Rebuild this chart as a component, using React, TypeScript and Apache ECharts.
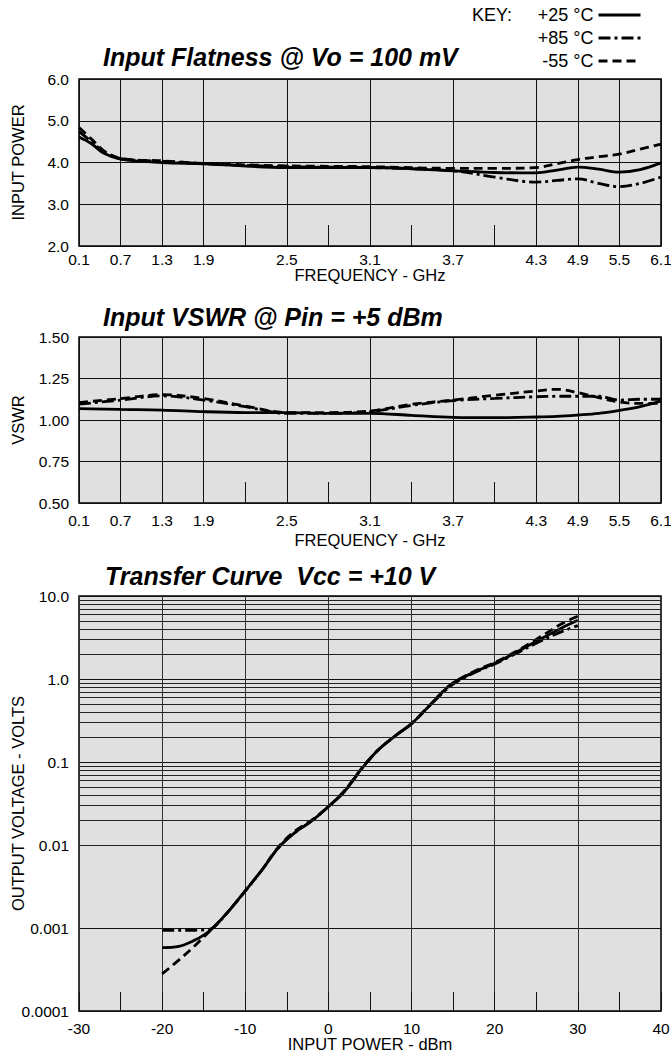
import React, { useEffect, useRef } from 'react';
import * as echarts from 'echarts';

const FONT = "'Liberation Sans', Arial, Helvetica, sans-serif";

// Frequency axis (non-uniform in the original plot): tick labels in order of position
const FREQ_TICKS = ['0.1', '0.7', '1.3', '1.9', '2.2', '2.5', '2.8', '3.1', '3.4', '3.7', '4.0', '4.3', '4.9', '5.5', '6.1'];
const FREQ_SHORT_TICKS = ['2.2', '2.8', '3.4', '4.0'];

const SERIES_NAMES = ['+25 °C', '+85 °C', '-55 °C'];

// Input Flatness @ Vo = 100 mV
const FLAT_FREQ = [0.1, 0.28, 0.46, 0.7, 1.3, 1.9, 2.5, 3.1, 3.7, 4.0, 4.3, 4.6, 4.9, 5.2, 5.5, 5.8, 6.1];
const FLAT_P25 = [4.61, 4.45, 4.22, 4.08, 4.0, 3.97, 3.88, 3.88, 3.8, 3.76, 3.75, 3.82, 3.89, 3.84, 3.77, 3.83, 3.99];
const FLAT_P85 = [4.74, 4.5, 4.25, 4.09, 4.03, 3.97, 3.9, 3.88, 3.8, 3.65, 3.53, 3.57, 3.61, 3.5, 3.42, 3.5, 3.65];
const FLAT_M55 = [4.84, 4.56, 4.28, 4.1, 4.04, 3.98, 3.92, 3.9, 3.86, 3.86, 3.88, 3.97, 4.07, 4.14, 4.2, 4.32, 4.44];

// Input VSWR @ Pin = +5 dBm
const VSWR_FREQ = [0.1, 0.7, 1.3, 1.9, 2.2, 2.5, 2.8, 3.1, 3.4, 3.7, 4.0, 4.3, 4.6, 4.9, 5.2, 5.5, 5.8, 6.1];
const VSWR_P25 = [1.069, 1.064, 1.06, 1.05, 1.045, 1.045, 1.04, 1.04, 1.028, 1.016, 1.014, 1.018, 1.022, 1.03, 1.04, 1.058, 1.08, 1.115];
const VSWR_P85 = [1.095, 1.12, 1.145, 1.12, 1.08, 1.04, 1.04, 1.05, 1.088, 1.117, 1.13, 1.14, 1.143, 1.143, 1.143, 1.12, 1.125, 1.125];
const VSWR_M55 = [1.105, 1.129, 1.153, 1.129, 1.084, 1.045, 1.045, 1.054, 1.095, 1.12, 1.149, 1.175, 1.185, 1.165, 1.135, 1.108, 1.1, 1.1];

// Transfer Curve Vcc = +10 V
const PIN_DBM = [-20, -18, -16, -15, -14, -12, -10, -8, -6, -4, -2, 0, 2, 4, 6, 8, 10, 12, 14, 15, 16, 18, 20, 22, 25, 28, 30];
const VOUT_P25 = [0.00058, 0.0006, 0.00072, 0.00082, 0.00098, 0.0016, 0.0028, 0.005, 0.0093, 0.0142, 0.0195, 0.029, 0.045, 0.083, 0.14, 0.205, 0.29, 0.46, 0.74, 0.9, 1.02, 1.27, 1.55, 1.95, 2.85, 4.1, 5.1];
const VOUT_P85 = [0.00094, 0.00094, 0.00094, 0.00095, 0.00099, 0.0016, 0.0028, 0.005, 0.0093, 0.0142, 0.0195, 0.029, 0.045, 0.083, 0.14, 0.205, 0.29, 0.46, 0.72, 0.87, 1.0, 1.25, 1.52, 1.9, 2.7, 3.7, 4.4];
const VOUT_M55 = [0.00028, 0.00041, 0.00062, 0.00078, 0.00097, 0.0016, 0.0028, 0.005, 0.0095, 0.0148, 0.02, 0.029, 0.046, 0.084, 0.14, 0.205, 0.29, 0.46, 0.75, 0.9, 1.03, 1.3, 1.58, 2.0, 3.0, 4.6, 5.7];

const LOG_TICK_LABELS = ['0.0001', '0.001', '0.01', '0.1', '1.0', '10.0'];
const LOG_DECADES = [0.0001, 0.001, 0.01, 0.1, 1];
const LOG_MINOR_MANTISSAS = [2, 3, 4, 5, 6, 7, 8, 9];

const DASH: Record<string, any> = {
  '+25 °C': 'solid',
  '+85 °C': [12, 4, 3, 4],
  '-55 °C': [9, 5],
};

const SHORT_IDX = FREQ_SHORT_TICKS.map((t) => FREQ_TICKS.indexOf(t));
const FREQ_VALUES = FREQ_TICKS.map(Number);

// position of a frequency on the (non-uniform) frequency axis, in tick units
function freqPos(f: number): number {
  for (let i = 0; i < FREQ_VALUES.length - 1; i++) {
    if (f <= FREQ_VALUES[i + 1]) {
      return i + (f - FREQ_VALUES[i]) / (FREQ_VALUES[i + 1] - FREQ_VALUES[i]);
    }
  }
  return FREQ_VALUES.length - 1;
}

const pairsFreq = (fs: number[], vs: number[]) => fs.map((f, i) => [freqPos(f), vs[i]]);
const pairs = (xs: number[], vs: number[]) => xs.map((x, i) => [x, vs[i]]);

function mkSeries(name: string, xAxisIndex: number, yAxisIndex: number, data: number[][]) {
  return {
    name,
    type: 'line',
    xAxisIndex,
    yAxisIndex,
    data,
    symbol: 'none',
    smooth: 0.35,
    silent: true,
    z: 3,
    itemStyle: { color: '#000' },
    lineStyle: { color: '#000', width: 2.8, type: DASH[name] },
  };
}

const GRID_LINE = { color: '#111', width: 1 };
const LABEL = { color: '#000', fontSize: 15.5, fontFamily: FONT };
const NAME_STYLE = { color: '#000', fontSize: 16.5, fontFamily: FONT };

function freqCategoryAxis(gridIndex: number, margin: number, nameGap: number) {
  return {
    type: 'category',
    gridIndex,
    data: FREQ_TICKS,
    boundaryGap: false,
    axisLine: { show: false },
    axisTick: {
      show: true,
      inside: true,
      length: 21,
      interval: (i: number) => SHORT_IDX.includes(i),
      lineStyle: GRID_LINE,
    },
    axisLabel: { ...LABEL, margin, interval: (i: number) => !SHORT_IDX.includes(i) },
    splitLine: { show: true, interval: (i: number) => !SHORT_IDX.includes(i), lineStyle: GRID_LINE },
    name: 'FREQUENCY - GHz',
    nameLocation: 'middle',
    nameGap,
    nameMoveOverlap: false,
    nameTextStyle: NAME_STYLE,
  };
}

function hiddenPosAxis(gridIndex: number) {
  return {
    type: 'value',
    gridIndex,
    min: 0,
    max: FREQ_TICKS.length - 1,
    show: false,
    splitLine: { show: false },
  };
}

const gridCommon = {
  show: true,
  backgroundColor: '#e0e0e0',
  borderColor: '#000',
  borderWidth: 1.5,
  left: 79,
  width: 582,
  containLabel: false,
  outerBoundsMode: 'none',
};

const option: any = {
  animation: false,
  backgroundColor: '#fff',
  textStyle: { fontFamily: FONT },
  title: [
    {
      text: 'Input Flatness @ Vo = 100 mV', left: 103, top: 44, padding: 0,
      textStyle: { fontSize: 25, fontWeight: 'bold', fontStyle: 'italic', color: '#000', fontFamily: FONT },
    },
    {
      text: 'Input VSWR @ Pin = +5 dBm', left: 103, top: 304, padding: 0,
      textStyle: { fontSize: 25, fontWeight: 'bold', fontStyle: 'italic', color: '#000', fontFamily: FONT },
    },
    {
      text: 'Transfer Curve  Vcc = +10 V', left: 105, top: 563, padding: 0,
      textStyle: { fontSize: 25, fontWeight: 'bold', fontStyle: 'italic', color: '#000', fontFamily: FONT },
    },
    {
      text: 'KEY:', left: 472, top: 6, padding: 0,
      textStyle: { fontSize: 18, fontWeight: 'normal', color: '#000', fontFamily: FONT },
    },
  ],
  legend: {
    data: SERIES_NAMES,
    orient: 'vertical',
    align: 'right',
    right: 29,
    top: 6,
    padding: 0,
    itemWidth: 42,
    itemHeight: 14,
    itemGap: 5,
    selectedMode: false,
    textStyle: { fontSize: 18, color: '#000', lineHeight: 18, fontFamily: FONT },
    itemStyle: { opacity: 0, borderWidth: 0 },
    lineStyle: { width: 3 },
  },
  grid: [
    { ...gridCommon, top: 79, height: 167 },
    { ...gridCommon, top: 337, height: 166 },
    { ...gridCommon, top: 596, height: 415 },
  ],
  xAxis: [
    freqCategoryAxis(0, 5, 20),
    hiddenPosAxis(0),
    freqCategoryAxis(1, 9, 28),
    hiddenPosAxis(1),
    {
      type: 'value',
      gridIndex: 2,
      min: -30,
      max: 40,
      interval: 10,
      axisLine: { show: false },
      axisTick: { show: true, inside: true, length: 19, lineStyle: GRID_LINE },
      minorTick: { show: true, splitNumber: 2, length: 19, lineStyle: GRID_LINE },
      axisLabel: { ...LABEL, margin: 9 },
      splitLine: { show: true, lineStyle: { color: '#333', width: 1 } },
      name: 'INPUT POWER - dBm',
      nameLocation: 'middle',
      nameGap: 24,
      nameMoveOverlap: false,
      nameTextStyle: NAME_STYLE,
    },
  ],
  yAxis: [
    {
      type: 'value',
      gridIndex: 0,
      min: 2,
      max: 6,
      interval: 1,
      axisLine: { show: false },
      axisTick: { show: false },
      axisLabel: { ...LABEL, margin: 10, formatter: (v: number) => v.toFixed(1) },
      splitLine: { show: true, lineStyle: GRID_LINE },
      name: 'INPUT POWER',
      nameLocation: 'middle',
      nameGap: 53,
      nameMoveOverlap: false,
      nameTextStyle: NAME_STYLE,
    },
    {
      type: 'value',
      gridIndex: 1,
      min: 0.5,
      max: 1.5,
      interval: 0.25,
      axisLine: { show: false },
      axisTick: { show: false },
      axisLabel: { ...LABEL, margin: 10, formatter: (v: number) => v.toFixed(2) },
      splitLine: { show: true, lineStyle: GRID_LINE },
      name: 'VSWR',
      nameLocation: 'middle',
      nameGap: 53,
      nameMoveOverlap: false,
      nameTextStyle: NAME_STYLE,
    },
    {
      type: 'log',
      logBase: 10,
      gridIndex: 2,
      min: 0.0001,
      max: 10,
      splitNumber: 5,
      axisLine: { show: false },
      axisTick: { show: false },
      axisLabel: {
        ...LABEL,
        margin: 10,
        formatter: (v: number) => LOG_TICK_LABELS[Math.round(Math.log10(v)) + 4] ?? '',
      },
      splitLine: { show: true, lineStyle: { color: '#111', width: 1 } },
      name: 'OUTPUT VOLTAGE - VOLTS',
      nameLocation: 'middle',
      nameGap: 53,
      nameMoveOverlap: false,
      nameTextStyle: NAME_STYLE,
    },
  ],
  series: [
    mkSeries('+25 °C', 1, 0, pairsFreq(FLAT_FREQ, FLAT_P25)),
    mkSeries('+85 °C', 1, 0, pairsFreq(FLAT_FREQ, FLAT_P85)),
    mkSeries('-55 °C', 1, 0, pairsFreq(FLAT_FREQ, FLAT_M55)),
    mkSeries('+25 °C', 3, 1, pairsFreq(VSWR_FREQ, VSWR_P25)),
    mkSeries('+85 °C', 3, 1, pairsFreq(VSWR_FREQ, VSWR_P85)),
    mkSeries('-55 °C', 3, 1, pairsFreq(VSWR_FREQ, VSWR_M55)),
    mkSeries('+25 °C', 4, 2, pairs(PIN_DBM, VOUT_P25)),
    mkSeries('+85 °C', 4, 2, pairs(PIN_DBM, VOUT_P85)),
    mkSeries('-55 °C', 4, 2, pairs(PIN_DBM, VOUT_M55)),
    {
      name: 'log-minor-grid',
      type: 'line',
      xAxisIndex: 4,
      yAxisIndex: 2,
      data: [],
      silent: true,
      z: 1,
      markLine: {
        silent: true,
        animation: false,
        symbol: ['none', 'none'],
        label: { show: false },
        lineStyle: { color: '#222', width: 1, type: 'solid' },
        emphasis: { disabled: true },
        data: LOG_DECADES.flatMap((d) => LOG_MINOR_MANTISSAS.map((m) => ({ yAxis: d * m }))),
      },
    },
  ],
};

export default function App() {
  const ref = useRef<HTMLDivElement>(null);
  useEffect(() => {
    if (!ref.current) return;
    const chart = echarts.init(ref.current, undefined, { renderer: 'svg' });
    chart.setOption(option);
    return () => chart.dispose();
  }, []);
  return (
    <div
      ref={ref}
      style={{ position: 'absolute', left: 0, top: 0, width: 671, height: 1057, background: '#fff' }}
    />
  );
}
